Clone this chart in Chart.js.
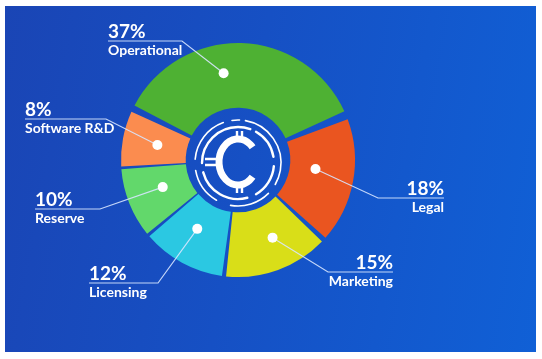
<!DOCTYPE html>
<html>
<head>
<meta charset="utf-8">
<script src="https://cdn.jsdelivr.net/npm/chart.js@4"></script>
<style>
  html, body { margin: 0; padding: 0; background: #ffffff; }
  body { width: 542px; height: 359px; position: relative; overflow: hidden; }
  #bg { position: absolute; left: 5px; top: 6px; width: 531px; height: 346px;
        background: linear-gradient(100deg, #1a45b5 0%, #1650c4 45%, #1060d6 100%); }
  #wrap { position: absolute; left: 0; top: 0; width: 542px; height: 359px; }
</style>
</head>
<body>
<div id="bg"></div>
<div id="wrap"><canvas id="c" width="542" height="359"></canvas></div>
<script>
const categories = ['Operational', 'Legal', 'Marketing', 'Licensing', 'Reserve', 'Software R&D'];
const shares = [37, 18, 15, 12, 10, 8];
const percentLabels = ['37%', '18%', '15%', '12%', '10%', '8%'];
const sliceColors = ['#4eb133', '#ea5520', '#d9de18', '#2bc8e2', '#62d86b', '#fb8c4f'];

// annotation layout (label placement), keyed by slice index
const labelLayout = [
  { side: 'left',  x: 108, y: 41,  elbow: 182, nudge: -11, r: 88 },
  { side: 'right', x: 444, y: 198, elbow: 378, nudge: -4,  r: 78 },
  { side: 'right', x: 393, y: 272, elbow: 328, nudge: -4,  r: 85 },
  { side: 'left',  x: 89,  y: 283, elbow: 158, nudge: 2,   r: 80 },
  { side: 'left',  x: 35,  y: 209, elbow: 100, nudge: 2,   r: 80 },
  { side: 'left',  x: 25,  y: 119, elbow: 106, nudge: 0,   r: 82 }
];

const labelPlugin = {
  id: 'leaderLabels',
  afterDatasetsDraw(chart) {
    const ctx = chart.ctx;
    const meta = chart.getDatasetMeta(0);
    meta.data.forEach((arc, i) => {
      const p = arc.getProps(['x', 'y', 'startAngle', 'endAngle', 'innerRadius', 'outerRadius'], true);
      const L = labelLayout[i];
      const mid = (p.startAngle + p.endAngle) / 2 + L.nudge * Math.PI / 180;
      const dx = p.x + Math.cos(mid) * L.r;
      const dy = p.y + Math.sin(mid) * L.r;
      ctx.save();
      ctx.strokeStyle = 'rgba(215,230,255,0.9)';
      ctx.lineWidth = 1.2;
      ctx.beginPath();
      ctx.moveTo(dx, dy);
      ctx.lineTo(L.elbow, L.y);
      ctx.lineTo(L.x, L.y);
      ctx.stroke();
      ctx.fillStyle = '#ffffff';
      ctx.beginPath();
      ctx.arc(dx, dy, 5, 0, Math.PI * 2);
      ctx.fill();
      ctx.textAlign = L.side === 'left' ? 'left' : 'right';
      ctx.textBaseline = 'alphabetic';
      ctx.font = 'bold 19px Lato';
      ctx.fillText(percentLabels[i], L.x, L.y - 3);
      ctx.font = 'bold 14px Lato';
      ctx.textBaseline = 'top';
      ctx.fillText(categories[i], L.x, L.y + 2);
      ctx.restore();
    });
    // center coin icon
    const a0 = meta.data[0].getProps(['x', 'y'], true);
    const cx = a0.x, cy = a0.y + 3;
    ctx.save();
    ctx.strokeStyle = '#ffffff';
    ctx.lineCap = 'round';
    ctx.lineWidth = 1.6;
    [[-80, 30], [45, 100], [120, 170], [185, 250], [262, 272]].forEach(([s, e]) => {
      ctx.beginPath();
      ctx.arc(cx, cy, 43, s * Math.PI / 180, e * Math.PI / 180);
      ctx.stroke();
    });
    ctx.lineWidth = 2.4;
    [[-60, -10], [5, 60], [75, 165], [180, 290]].forEach(([s, e]) => {
      ctx.beginPath();
      ctx.arc(cx, cy, 36, s * Math.PI / 180, e * Math.PI / 180);
      ctx.stroke();
    });
    ctx.lineCap = 'butt';
    ctx.lineWidth = 7;
    ctx.beginPath();
    ctx.ellipse(cx, cy - 1, 19, 23, 0, 40 * Math.PI / 180, 320 * Math.PI / 180);
    ctx.stroke();
    ctx.lineWidth = 2.4;
    ctx.beginPath();
    ctx.moveTo(cx - 1, cy - 32); ctx.lineTo(cx - 1, cy - 25);
    ctx.moveTo(cx + 4, cy - 32); ctx.lineTo(cx + 4, cy - 25);
    ctx.moveTo(cx - 1, cy + 23); ctx.lineTo(cx - 1, cy + 30);
    ctx.moveTo(cx + 4, cy + 23); ctx.lineTo(cx + 4, cy + 30);
    ctx.moveTo(cx - 33, cy - 4); ctx.lineTo(cx - 21, cy - 4);
    ctx.moveTo(cx - 33, cy + 2); ctx.lineTo(cx - 21, cy + 2);
    ctx.stroke();
    ctx.restore();
  }
};

new Chart(document.getElementById('c'), {
  type: 'doughnut',
  data: {
    labels: categories,
    datasets: [{
      data: shares,
      backgroundColor: sliceColors,
      borderWidth: 0,
      spacing: 7,
      hoverOffset: 0
    }]
  },
  options: {
    responsive: false,
    animation: false,
    events: [],
    rotation: -65,
    radius: 113.5,
    cutout: '43%',
    layout: { padding: { left: 0, right: 66, top: 0, bottom: 39 } },
    plugins: { legend: { display: false }, tooltip: { enabled: false } }
  },
  plugins: [labelPlugin]
});
</script>
</body>
</html>
